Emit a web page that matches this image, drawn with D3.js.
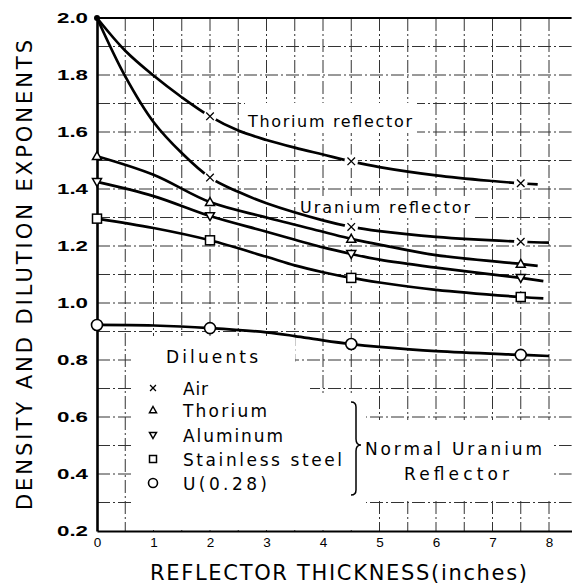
<!DOCTYPE html>
<html>
<head>
<meta charset="utf-8">
<script src="https://cdn.jsdelivr.net/npm/d3@7"></script>
<style>
  html, body { margin: 0; padding: 0; background: #fff; }
  svg { display: block; font-family: "DejaVu Sans", sans-serif; }
</style>
</head>
<body>
<svg id="chart" width="572" height="584"></svg>
<script>
// ---------- data ----------
const xTicks = [0, 1, 2, 3, 4, 5, 6, 7, 8];
const yTicks = [0.2, 0.4, 0.6, 0.8, 1.0, 1.2, 1.4, 1.6, 1.8, 2.0];
const yTickLabels = ["0.2", "0.4", "0.6", "0.8", "1.0", "1.2", "1.4", "1.6", "1.8", "2.0"];
const xGrid = [0.5, 1, 1.5, 2, 2.5, 3, 3.5, 4, 4.5, 5, 5.5, 6, 6.5, 7, 7.5, 8];
const yGrid = [0.3, 0.4, 0.5, 0.6, 0.7, 0.8, 0.9, 1.0, 1.1, 1.2, 1.3, 1.4, 1.5, 1.6, 1.7, 1.8, 1.9];

// measured points (reflector thickness, inches)
const markX = [0, 2, 4.5, 7.5];
const airThoriumRefl = [2.0, 1.655, 1.497, 1.42];
const airUraniumRefl = [2.0, 1.44, 1.267, 1.215];
const thoriumDil = [1.515, 1.354, 1.225, 1.137];
const aluminumDil = [1.425, 1.305, 1.172, 1.088];
const steelDil = [1.296, 1.22, 1.088, 1.021];
const u028Dil = [0.923, 0.912, 0.856, 0.818];

// traced curves
const thReflCurveX = [0, 0.5, 1, 1.5, 2, 2.5, 3, 3.5, 4, 4.5, 5, 6, 7, 7.5, 7.8];
const thReflCurveY = [2.0, 1.885, 1.798, 1.722, 1.655, 1.605, 1.572, 1.545, 1.521, 1.497, 1.477, 1.448, 1.428, 1.42, 1.416];
const uReflCurveX = [0, 0.5, 1, 1.5, 2, 2.5, 3, 4, 4.5, 5, 6, 7.5, 8];
const uReflCurveY = [2.0, 1.795, 1.635, 1.526, 1.44, 1.39, 1.35, 1.29, 1.267, 1.252, 1.232, 1.215, 1.212];
const thDilCurveX = [0, 1, 2, 3, 4, 4.5, 5, 6, 7.5, 7.8];
const thDilCurveY = [1.515, 1.45, 1.354, 1.30, 1.25, 1.225, 1.205, 1.168, 1.137, 1.13];
const alDilCurveX = [0, 1, 2, 3, 4, 4.5, 5, 6, 7.5, 7.9];
const alDilCurveY = [1.425, 1.375, 1.305, 1.25, 1.195, 1.172, 1.152, 1.124, 1.088, 1.077];
const stDilCurveX = [0, 1, 2, 3, 3.5, 4, 4.5, 5, 6, 7.5, 7.9];
const stDilCurveY = [1.296, 1.263, 1.22, 1.162, 1.132, 1.108, 1.088, 1.072, 1.046, 1.021, 1.016];
const uDilCurveX = [0, 1, 2, 3, 3.5, 4, 4.5, 5, 6, 7.5, 8];
const uDilCurveY = [0.923, 0.921, 0.912, 0.897, 0.884, 0.869, 0.856, 0.846, 0.831, 0.818, 0.814];

const legendNames = ["Air", "Thorium", "Aluminum", "Stainless steel", "U(0.28)"];
const legendSymbols = ["cross", "tri", "itri", "square", "circle"];

// ---------- drawing ----------
const svg = d3.select("#chart");
const x = d3.scaleLinear().domain([0, 8.4]).range([97, 571.6]);
const y = d3.scaleLinear().domain([0.2, 2.0]).range([531, 18]);

// grid
const grid = svg.append("g").attr("stroke", "#333").attr("stroke-width", 1)
  .attr("stroke-dasharray", "13,3,2,3").attr("fill", "none");
grid.selectAll("line.v").data(xGrid).join("line")
  .attr("x1", d => x(d)).attr("x2", d => x(d)).attr("y1", y(2.0)).attr("y2", y(0.2));
grid.selectAll("line.h").data(yGrid).join("line")
  .attr("x1", x(0)).attr("x2", x(8.4)).attr("y1", d => y(d)).attr("y2", d => y(d));

// white areas where the grid is interrupted by lettering
const clears = [
  [245, 103, 172, 30],   // Thorium reflector
  [296, 196, 178, 22],   // Uranium reflector
  [132, 336, 163, 194],  // legend
  [295, 362, 15, 168],
  [310, 395, 56, 135],
  [358, 420, 194, 78],   // Normal Uranium Reflector
];
svg.append("g").selectAll("rect").data(clears).join("rect")
  .attr("x", d => d[0]).attr("y", d => d[1]).attr("width", d => d[2]).attr("height", d => d[3])
  .attr("fill", "#fff");

// frame / axes
const yAxis = d3.axisLeft(y).tickValues(yTicks).tickSize(0).tickPadding(9)
  .tickFormat((d, i) => yTickLabels[i]);
const gy = svg.append("g").attr("transform", `translate(${x(0)},0)`).call(yAxis);
gy.select(".domain").attr("stroke", "#000").attr("stroke-width", 2.6);
gy.selectAll("text").attr("font-size", 15).attr("font-weight", "bold").attr("fill", "#000")
  .attr("textLength", 31).attr("lengthAdjust", "spacingAndGlyphs");

const xAxis = d3.axisBottom(x).tickValues(xTicks).tickSize(0).tickPadding(6).tickFormat(d3.format("d"));
const gx = svg.append("g").attr("transform", `translate(0,${y(0.2)})`).call(xAxis);
gx.select(".domain").attr("stroke", "#000").attr("stroke-width", 2.2);
gx.selectAll("text").attr("font-size", 13.5).attr("fill", "#000");

svg.append("line").attr("x1", x(0)).attr("x2", x(8.4)).attr("y1", y(2.0)).attr("y2", y(2.0))
  .attr("stroke", "#000").attr("stroke-width", 2.2);

// curves
const line = d3.line().x(d => x(d[0])).y(d => y(d[1])).curve(d3.curveCatmullRom.alpha(0.5));
const curves = [
  [thReflCurveX, thReflCurveY],
  [uReflCurveX, uReflCurveY],
  [thDilCurveX, thDilCurveY],
  [alDilCurveX, alDilCurveY],
  [stDilCurveX, stDilCurveY],
  [uDilCurveX, uDilCurveY],
];
svg.append("g").selectAll("path").data(curves).join("path")
  .attr("d", c => line(c[0].map((v, i) => [v, c[1][i]])))
  .attr("fill", "none").attr("stroke", "#000").attr("stroke-width", 2.7)
  .attr("stroke-linejoin", "round");

// symbols
function drawSymbol(g, type, cx, cy, s) {
  if (type === "cross") {
    g.append("circle").attr("cx", cx).attr("cy", cy).attr("r", s * 0.75).attr("fill", "#fff");
    const h = s * 0.42;
    g.append("path").attr("d", `M${cx - h},${cy - h}L${cx + h},${cy + h}M${cx - h},${cy + h}L${cx + h},${cy - h}`)
      .attr("stroke", "#000").attr("stroke-width", 1.3).attr("fill", "none");
  } else if (type === "tri") {
    const h = s * 0.5;
    g.append("path").attr("d", `M${cx},${cy - h}L${cx + h},${cy + h * 0.75}L${cx - h},${cy + h * 0.75}Z`)
      .attr("stroke", "#000").attr("stroke-width", 1.5).attr("fill", "#fff");
  } else if (type === "itri") {
    const h = s * 0.5;
    g.append("path").attr("d", `M${cx},${cy + h}L${cx + h},${cy - h * 0.75}L${cx - h},${cy - h * 0.75}Z`)
      .attr("stroke", "#000").attr("stroke-width", 1.5).attr("fill", "#fff");
  } else if (type === "square") {
    const h = s * 0.5;
    g.append("rect").attr("x", cx - h).attr("y", cy - h).attr("width", 2 * h).attr("height", 2 * h)
      .attr("stroke", "#000").attr("stroke-width", 1.5).attr("fill", "#fff");
  } else if (type === "circle") {
    g.append("circle").attr("cx", cx).attr("cy", cy).attr("r", s * 0.5)
      .attr("stroke", "#000").attr("stroke-width", 1.6).attr("fill", "#fff");
  } else if (type === "dot") {
    g.append("circle").attr("cx", cx).attr("cy", cy).attr("r", s * 0.5).attr("fill", "#000");
  }
}
const mg = svg.append("g");
const markSeries = [
  [airThoriumRefl, "cross", 9, 1],
  [airUraniumRefl, "cross", 9, 1],
  [thoriumDil, "tri", 9, 0],
  [aluminumDil, "itri", 9, 0],
  [steelDil, "square", 9, 0],
  [u028Dil, "circle", 11, 0],
];
markSeries.forEach(([vals, type, size, skipFirst]) => {
  vals.forEach((v, i) => {
    if (skipFirst && i === 0) return;
    drawSymbol(mg, type, x(markX[i]), y(v), size);
  });
});
drawSymbol(mg, "dot", x(markX[0]), y(airThoriumRefl[0]), 6);

// curve labels
function label(txt, x0, x1, base, size) {
  svg.append("text").attr("x", x0).attr("y", base).attr("font-size", size)
    .attr("textLength", x1 - x0).attr("lengthAdjust", "spacing").attr("fill", "#000").text(txt);
}
label("Thorium reflector", 248, 412, 127, 16);
label("Uranium reflector", 300, 470, 213, 16);
label("Diluents", 166, 258, 363, 17);

// legend
const legendRowsY = [388, 410, 435, 459, 483];
const legendEnds = [208, 267, 283, 342, 267];
legendNames.forEach((n, i) => {
  drawSymbol(svg, legendSymbols[i], 153, legendRowsY[i], legendSymbols[i] === "circle" ? 9 : 7);
  label(n, 183, legendEnds[i], legendRowsY[i] + 7, 17);
});
svg.append("path")
  .attr("d", "M351,402 q5,0 5,5 L356,439 q0,6 5,6 q-5,0 -5,6 L356,490 q0,5 -5,5")
  .attr("fill", "none").attr("stroke", "#000").attr("stroke-width", 1.5);
label("Normal Uranium", 365, 542, 455, 17);
label("Reflector", 404, 509, 480, 17);

// axis titles
svg.append("text").attr("x", 150).attr("y", 580).attr("font-size", 21)
  .attr("textLength", 377).attr("lengthAdjust", "spacing").attr("fill", "#000")
  .text("REFLECTOR THICKNESS(inches)");
svg.append("text").attr("transform", "translate(32,510) rotate(-90)").attr("font-size", 21)
  .attr("textLength", 470).attr("lengthAdjust", "spacing").attr("fill", "#000")
  .text("DENSITY AND DILUTION EXPONENTS");
</script>
</body>
</html>
